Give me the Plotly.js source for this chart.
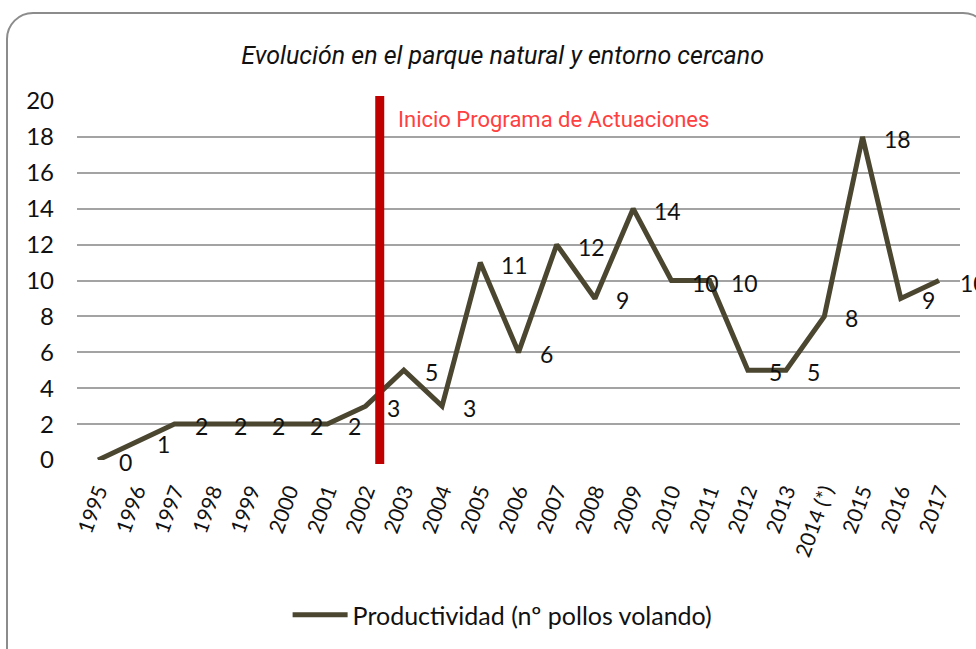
<!DOCTYPE html>
<html>
<head>
<meta charset="utf-8">
<script src="https://cdn.plot.ly/plotly-3.0.1.min.js"></script>
<style>
  html, body { margin:0; padding:0; background:#fff; overflow:hidden; }
  #frame { position:absolute; left:6px; top:12px; width:984px; height:700px;
           border:2px solid #8c8c8c; border-radius:27px; box-sizing:border-box; }
  #chart { position:absolute; left:0; top:0; width:976px; height:649px; }
</style>
</head>
<body>
<div id="frame"></div>
<div id="chart"></div>
<script>
// ---- data ----
const years = ["1995","1996","1997","1998","1999","2000","2001","2002","2003","2004","2005",
               "2006","2007","2008","2009","2010","2011","2012","2013","2014 (*)","2015","2016","2017"];
const chicks = [0,1,2,2,2,2,2,3,5,3,11,6,12,9,14,10,10,5,5,8,18,9,10];
const yTicks = [0,2,4,6,8,10,12,14,16,18,20];
const seriesName = "Productividad (nº pollos volando)";
const chartTitle = "Evolución en el parque natural y entorno cercano";
const markerLabel = "Inicio Programa de Actuaciones";
const markerPos = 7.37; // between 2002 and 2003 (category index)

const lineColor = "#4b4630";
const numFont = "Lato, 'Open Sans', sans-serif";
const narrowFont = "Roboto, 'Liberation Sans Narrow', sans-serif";

const trace = {
  x: years, y: chicks, type: "scatter", mode: "lines", name: seriesName,
  line: { color: lineColor, width: 5 }, cliponaxis: false, hoverinfo: "x+y"
};

// category index used as x so numeric-looking labels are not read as positions
const labelAnns = years.map((yr, i) => ({
  x: i, y: chicks[i], xref: "x", yref: "y", text: String(chicks[i]),
  showarrow: false, xanchor: "left", yanchor: "middle", xshift: 20, yshift: -2,
  borderpad: 0, font: { family: numFont, size: 23, color: "#111" }
}));

labelAnns.push({
  x: markerPos, y: 20, xref: "x", yref: "y", text: markerLabel, showarrow: false,
  xanchor: "left", yanchor: "top", xshift: 16, yshift: -4,
  font: { family: narrowFont, size: 22, color: "#ff4040" }
});

const layout = {
  width: 976, height: 649,
  paper_bgcolor: "rgba(0,0,0,0)", plot_bgcolor: "rgba(0,0,0,0)",
  margin: { l: 77, r: 16, t: 101, b: 188 },
  title: { text: chartTitle, x: 0.515, xanchor: "center", y: 0.915, yanchor: "middle",
           font: { family: narrowFont, size: 25, color: "#111", style: "italic" } },
  showlegend: true,
  legend: { orientation: "h", x: 0.482, xanchor: "center", y: -0.428, yanchor: "middle",
            font: { family: numFont, size: 25, color: "#111" }, itemwidth: 55,
            bgcolor: "rgba(0,0,0,0)" },
  xaxis: { type: "category", range: [-0.55, 22.55], showgrid: false, zeroline: false,
           showline: false, ticks: "", tickangle: -70, ticklabelstandoff: 14,
           tickfont: { family: numFont, size: 21, color: "#111" }, fixedrange: true },
  yaxis: { range: [0, 20], tickvals: yTicks, ticktext: yTicks.map(String),
           showgrid: true, gridcolor: "#a3a3a3", gridwidth: 2, zeroline: false,
           showline: false, ticks: "", ticklabelstandoff: 22,
           tickfont: { family: numFont, size: 24, color: "#111" }, fixedrange: true },
  shapes: [{
    type: "line", xref: "x", yref: "paper", x0: markerPos, x1: markerPos, y0: -0.011, y1: 1.014,
    line: { color: "#c00000", width: 9 }
  }],
  annotations: labelAnns
};

Plotly.newPlot("chart", [trace], layout, { displayModeBar: false, staticPlot: true });
</script>
</body>
</html>
